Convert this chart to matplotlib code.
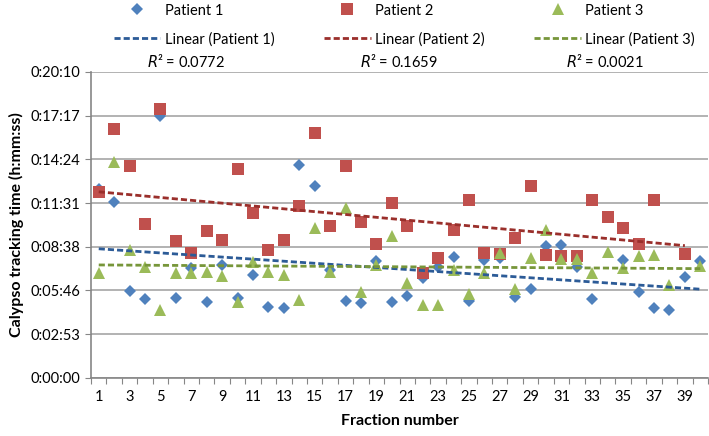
import numpy as np
import matplotlib
matplotlib.use("Agg")
import matplotlib.pyplot as plt

plt.rcParams['font.family'] = ['Lato', 'DejaVu Sans']

nan = np.nan
fractions = np.arange(1, 41)

# tracking time in seconds
patient1 = [745, 697, 343, 310, 1037, 314, 433, 301, 446, 314,
            406, 281, 275, 842, 759, 425, 305, 297, 462, 301,
            323, 393, 439, 476, 305, 466, 472, 321, 351, 521,
            524, 439, 310, nan, 466, 340, 274, 266, 397, 460]
patient2 = [736, 983, 838, 608, 1062, 542, 495, 581, 545, 825,
            653, 505, 545, 681, 967, 600, 838, 615, 529, 690,
            600, 416, 472, 585, 703, 492, 488, 552, 760, 486,
            482, 482, 703, 637, 591, 530, 703, nan, 490, nan]
patient3 = [413, 852, 505, 440, 268, 413, 416, 420, 402, 301,
            457, 420, 406, 308, 591, 420, 670, 341, 446, 562,
            374, 288, 288, 426, 331, 413, 492, 351, 472, 585,
            468, 468, 413, 499, 433, 482, 486, 365, nan, 442]

names = ["Patient 1", "Patient 2", "Patient 3"]
r2_labels = ["0.0772", "0.1659", "0.0021"]
ytick_labels = ["0:00:00", "0:02:53", "0:05:46", "0:08:38",
                "0:11:31", "0:14:24", "0:17:17", "0:20:10"]

colors = ["#4F81BD", "#C0504D", "#9BBB59"]
trend_colors = ["#2C5B97", "#9A2F2B", "#77963A"]
markers = ["D", "s", "^"]
msizes = [6, 9, 8.5]

fig = plt.figure(figsize=(7.09, 4.36), dpi=100)
ax = fig.add_axes([0.1284, 0.1337, 0.8702, 0.7012])

handles = []
for i, ys in enumerate([patient1, patient2, patient3]):
    ys = np.array(ys, dtype=float)
    m = ~np.isnan(ys)
    h, = ax.plot(fractions[m], ys[m], linestyle="none", marker=markers[i],
                 ms=msizes[i], color=colors[i], mew=0, zorder=3)
    # linear trendline like excel
    k, b = np.polyfit(fractions[m], ys[m], 1)
    xs = np.array([fractions[m].min(), fractions[m].max()])
    t, = ax.plot(xs, k * xs + b, color=trend_colors[i], lw=2.0,
                 dashes=(2.2, 1.1), zorder=4)
    handles += [h, t]

labels = []
for n in names:
    labels += [n, "Linear (" + n + ")"]

fig.legend(handles, labels, ncol=3, loc="upper left",
           bbox_to_anchor=(0.142, 1.022), frameon=False, fontsize=10.5,
           handlelength=3.2, handletextpad=0.3, columnspacing=3.4,
           labelspacing=1.0)

for x, r in zip([0.263, 0.563, 0.853], r2_labels):
    fig.text(x, 0.860, "$R$² = " + r, ha="center", va="center",
             fontsize=10.5)

step = 1210 / 7
ax.set_ylim(0, 1210)
ax.set_yticks(np.arange(8) * step)
ax.set_yticklabels(ytick_labels, fontsize=10.5)
ax.grid(axis="y", color="#A6A6A6", lw=1.2)
ax.set_axisbelow(True)

ax.set_xlim(0.5, 40.5)
ax.set_xticks(np.arange(0.5, 41, 1))
ax.set_xticklabels([])
ax.set_xticks(np.arange(1, 41, 2), minor=True)
ax.set_xticklabels([str(v) for v in range(1, 41, 2)], minor=True, fontsize=10.5)
ax.tick_params(axis="x", which="minor", length=0, pad=9)
ax.tick_params(axis="x", which="major", length=4, color="#868686")
ax.tick_params(axis="y", length=4, color="#868686")

for s in ["top", "right"]:
    ax.spines[s].set_visible(False)
for s in ["left", "bottom"]:
    ax.spines[s].set_color("#868686")
    ax.spines[s].set_linewidth(1.2)

ax.set_xlabel("Fraction number", fontsize=11.5, fontweight="bold", labelpad=7)
ax.set_ylabel("Calypso tracking time (h:mm:ss)", fontsize=11.5,
              fontweight="bold", labelpad=5)

fig.savefig("out.png", dpi=100)
